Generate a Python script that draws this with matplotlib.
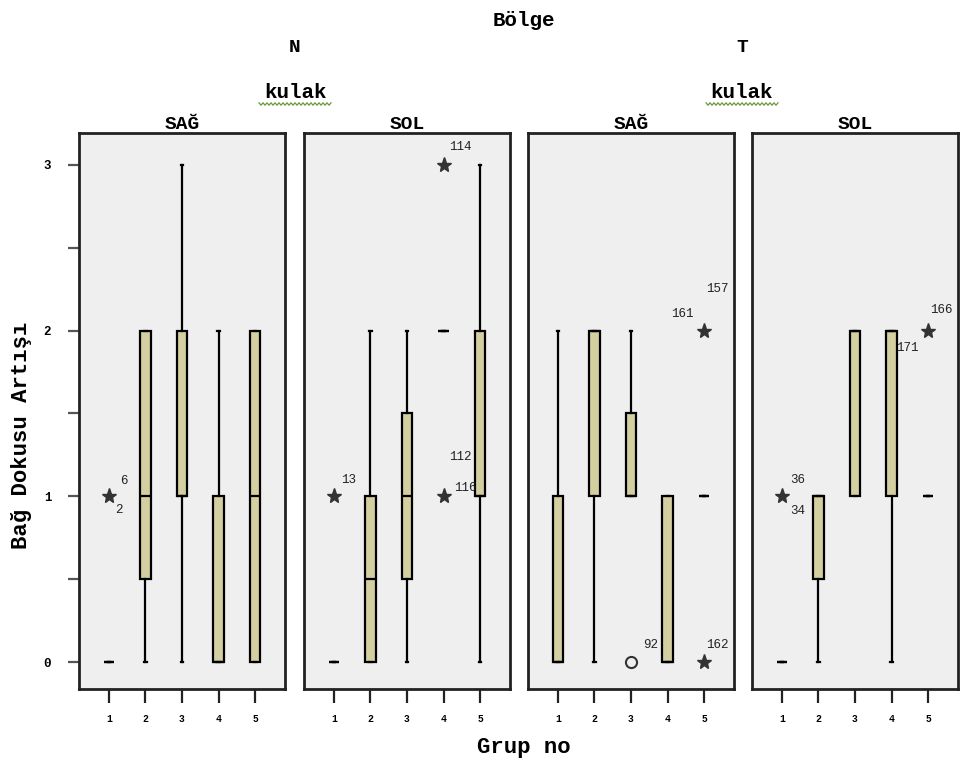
import numpy as np
import matplotlib
matplotlib.use("Agg")
import matplotlib.pyplot as plt
from matplotlib.lines import Line2D

# data
regions = ["N", "N", "T", "T"]
sides = ["SAĞ", "SOL", "SAĞ", "SOL"]
groups = [1, 2, 3, 4, 5]

q1 = [[0, 0.5, 1, 0, 0], [0, 0, 0.5, 2, 1], [0, 1, 1, 0, 1], [0, 0.5, 1, 1, 1]]
med = [[0, 1, 1, 0, 1], [0, 0.5, 1, 2, 1], [0, 2, 1, 0, 1], [0, 1, 2, 2, 1]]
q3 = [[0, 2, 2, 1, 2], [0, 1, 1.5, 2, 2], [1, 2, 1.5, 1, 1], [0, 1, 2, 2, 1]]
wlo = [[0, 0, 0, 0, 0], [0, 0, 0, 2, 0], [0, 0, 1, 0, 1], [0, 0, 1, 0, 1]]
whi = [[0, 2, 3, 2, 2], [0, 2, 2, 2, 3], [2, 2, 2, 1, 1], [0, 1, 2, 2, 1]]

# outliers: panel, group, value, marker
out_panel = [0, 1, 1, 1, 2, 2, 2, 3, 3]
out_group = [1, 1, 4, 4, 3, 5, 5, 1, 5]
out_value = [1, 1, 3, 1, 0, 2, 0, 1, 2]
out_marker = ["*", "*", "*", "*", "o", "*", "*", "*", "*"]

# case labels, attached to an outlier
lab_text = ["6", "2", "13", "114", "112", "116", "92", "161", "157", "162", "36", "34", "166", "171"]
lab_of = [0, 0, 1, 2, 3, 3, 4, 5, 5, 6, 7, 7, 8, 8]
lab_off = [(15, 15), (10, -14), (15, 16), (17, 18), (17, 39), (22, 8), (20, 17),
           (-22, 17), (13, 42), (13, 17), (16, 16), (16, -15), (13, 21), (-21, -17)]

box_color = "#d3cfa0"
bg = "#efefef"
mono = "Liberation Mono"

W, H = 961, 767
fig = plt.figure(figsize=(W / 100, H / 100), dpi=100)

lefts = [79, 304, 528, 752]
pw = 206
top, bot = 133, 689

axes = []
for p in range(4):
    ax = fig.add_axes([lefts[p] / W, 1 - bot / H, pw / W, (bot - top) / H])
    ax.set_facecolor(bg)
    stats = []
    for i, g in enumerate(groups):
        stats.append(dict(med=med[p][i], q1=q1[p][i], q3=q3[p][i],
                          whislo=wlo[p][i], whishi=whi[p][i], fliers=[]))
    ax.bxp(stats, positions=groups, widths=0.28, patch_artist=True, showfliers=False,
           boxprops=dict(facecolor=box_color, edgecolor="black", linewidth=1.6),
           medianprops=dict(color="black", linewidth=1.6),
           whiskerprops=dict(color="black", linewidth=1.6),
           capprops=dict(color="black", linewidth=1.6), capwidths=0.06)
    ax.set_xlim(0.18, 5.82)
    ax.set_ylim(-0.16, 3.19)
    ax.set_xticks(groups)
    ax.set_xticklabels([str(g) for g in groups], fontsize=7, family=mono, fontweight="bold")
    ax.tick_params(axis="x", length=10, width=1.6, direction="out", pad=8, color="#222")
    if p == 0:
        ax.set_yticks([0, 1, 2, 3])
        ax.set_yticks([0.5, 1.5, 2.5], minor=True)
        ax.set_yticklabels(["0", "1", "2", "3"], fontsize=9, family=mono, fontweight="bold")
        ax.tick_params(axis="y", which="both", length=8, width=1.6, pad=12, color="#555")
    else:
        ax.set_yticks([])
    for s in ax.spines.values():
        s.set_linewidth(2)
        s.set_color("#222")
    ax.text(0.5, 1.0, sides[p], transform=ax.transAxes, ha="center", va="bottom",
            fontsize=14, family=mono, fontweight="bold")
    axes.append(ax)

# outliers
for k in range(len(out_value)):
    ax = axes[out_panel[k]]
    if out_marker[k] == "o":
        ax.plot(out_group[k], out_value[k], "o", ms=8, mfc="none", mec="#333", mew=1.5)
    else:
        ax.plot(out_group[k], out_value[k], "*", ms=11, color="#333")

for t, k, off in zip(lab_text, lab_of, lab_off):
    ax = axes[out_panel[k]]
    ax.annotate(t, (out_group[k], out_value[k]), xytext=off, textcoords="offset pixels",
                ha="center", va="center", fontsize=9, family=mono, color="#222")

# header texts
fig.text(524 / W, 1 - 20 / H, "Bölge", ha="center", va="center", fontsize=15,
         family=mono, fontweight="bold")
for x, r in [(295, "N"), (742, "T")]:
    fig.text(x / W, 1 - 48 / H, r, ha="center", va="center", fontsize=14,
             family=mono, fontweight="bold")
    fig.text(x / W, 1 - 92 / H, "kulak", ha="center", va="center", fontsize=15,
             family=mono, fontweight="bold")
    # spell-check squiggle under "kulak"
    zx = np.arange(x - 36, x + 37, 2)
    zy = 104 + np.where(np.arange(len(zx)) % 2 == 0, -1.2, 1.2)
    fig.add_artist(Line2D(zx / W, 1 - zy / H, color="#6a9a3a", lw=0.9))

fig.text(22 / W, 1 - 435 / H, "Bağ Dokusu Artışı", rotation=90, ha="center", va="center",
         fontsize=16, family=mono, fontweight="bold")
fig.text(524 / W, 1 - 748 / H, "Grup no", ha="center", va="center", fontsize=16,
         family=mono, fontweight="bold")

fig.savefig("out.png", dpi=100)
